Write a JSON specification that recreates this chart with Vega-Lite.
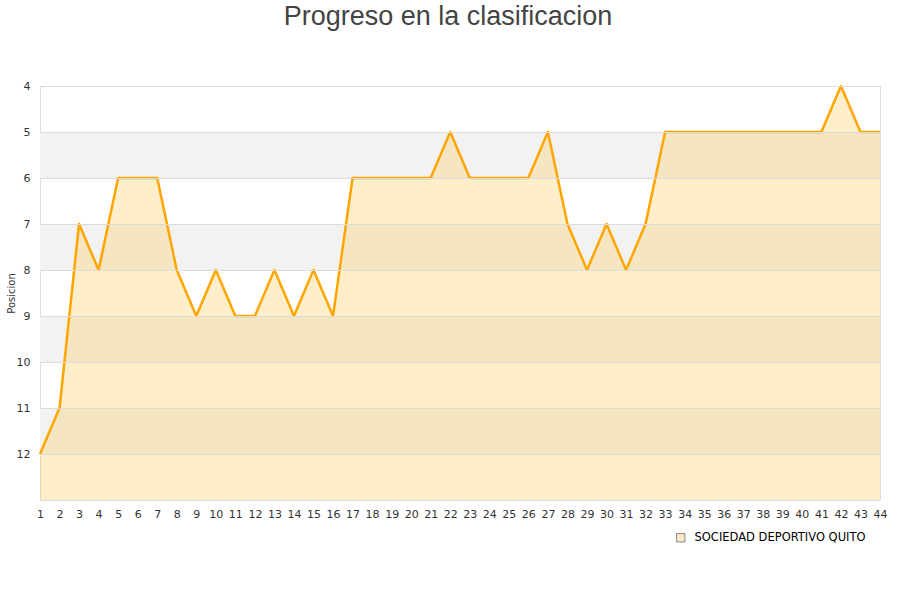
{
  "$schema": "https://vega.github.io/schema/vega-lite/v6.json",
  "width": 840,
  "height": 414,
  "autosize": {"type": "none"},
  "padding": {"left": 40, "top": 86, "right": 20, "bottom": 100},
  "background": "white",
  "title": {"text": "Progreso en la clasificacion", "fontSize": 27, "font": "Liberation Sans", "fontWeight": "normal", "color": "#444444", "anchor": "middle", "offset": 49, "dx": -12},
  "config": {"view": {"stroke": "#dddddd"}, "font": "DejaVu Sans"},
  "datasets": {
    "bands": [{"a": 5, "b": 6}, {"a": 7, "b": 8}, {"a": 9, "b": 10}, {"a": 11, "b": 12}],
    "pos": [
      {"jornada": 1, "posicion": 12, "equipo": "SOCIEDAD DEPORTIVO QUITO"},
      {"jornada": 2, "posicion": 11, "equipo": "SOCIEDAD DEPORTIVO QUITO"},
      {"jornada": 3, "posicion": 7, "equipo": "SOCIEDAD DEPORTIVO QUITO"},
      {"jornada": 4, "posicion": 8, "equipo": "SOCIEDAD DEPORTIVO QUITO"},
      {"jornada": 5, "posicion": 6, "equipo": "SOCIEDAD DEPORTIVO QUITO"},
      {"jornada": 6, "posicion": 6, "equipo": "SOCIEDAD DEPORTIVO QUITO"},
      {"jornada": 7, "posicion": 6, "equipo": "SOCIEDAD DEPORTIVO QUITO"},
      {"jornada": 8, "posicion": 8, "equipo": "SOCIEDAD DEPORTIVO QUITO"},
      {"jornada": 9, "posicion": 9, "equipo": "SOCIEDAD DEPORTIVO QUITO"},
      {"jornada": 10, "posicion": 8, "equipo": "SOCIEDAD DEPORTIVO QUITO"},
      {"jornada": 11, "posicion": 9, "equipo": "SOCIEDAD DEPORTIVO QUITO"},
      {"jornada": 12, "posicion": 9, "equipo": "SOCIEDAD DEPORTIVO QUITO"},
      {"jornada": 13, "posicion": 8, "equipo": "SOCIEDAD DEPORTIVO QUITO"},
      {"jornada": 14, "posicion": 9, "equipo": "SOCIEDAD DEPORTIVO QUITO"},
      {"jornada": 15, "posicion": 8, "equipo": "SOCIEDAD DEPORTIVO QUITO"},
      {"jornada": 16, "posicion": 9, "equipo": "SOCIEDAD DEPORTIVO QUITO"},
      {"jornada": 17, "posicion": 6, "equipo": "SOCIEDAD DEPORTIVO QUITO"},
      {"jornada": 18, "posicion": 6, "equipo": "SOCIEDAD DEPORTIVO QUITO"},
      {"jornada": 19, "posicion": 6, "equipo": "SOCIEDAD DEPORTIVO QUITO"},
      {"jornada": 20, "posicion": 6, "equipo": "SOCIEDAD DEPORTIVO QUITO"},
      {"jornada": 21, "posicion": 6, "equipo": "SOCIEDAD DEPORTIVO QUITO"},
      {"jornada": 22, "posicion": 5, "equipo": "SOCIEDAD DEPORTIVO QUITO"},
      {"jornada": 23, "posicion": 6, "equipo": "SOCIEDAD DEPORTIVO QUITO"},
      {"jornada": 24, "posicion": 6, "equipo": "SOCIEDAD DEPORTIVO QUITO"},
      {"jornada": 25, "posicion": 6, "equipo": "SOCIEDAD DEPORTIVO QUITO"},
      {"jornada": 26, "posicion": 6, "equipo": "SOCIEDAD DEPORTIVO QUITO"},
      {"jornada": 27, "posicion": 5, "equipo": "SOCIEDAD DEPORTIVO QUITO"},
      {"jornada": 28, "posicion": 7, "equipo": "SOCIEDAD DEPORTIVO QUITO"},
      {"jornada": 29, "posicion": 8, "equipo": "SOCIEDAD DEPORTIVO QUITO"},
      {"jornada": 30, "posicion": 7, "equipo": "SOCIEDAD DEPORTIVO QUITO"},
      {"jornada": 31, "posicion": 8, "equipo": "SOCIEDAD DEPORTIVO QUITO"},
      {"jornada": 32, "posicion": 7, "equipo": "SOCIEDAD DEPORTIVO QUITO"},
      {"jornada": 33, "posicion": 5, "equipo": "SOCIEDAD DEPORTIVO QUITO"},
      {"jornada": 34, "posicion": 5, "equipo": "SOCIEDAD DEPORTIVO QUITO"},
      {"jornada": 35, "posicion": 5, "equipo": "SOCIEDAD DEPORTIVO QUITO"},
      {"jornada": 36, "posicion": 5, "equipo": "SOCIEDAD DEPORTIVO QUITO"},
      {"jornada": 37, "posicion": 5, "equipo": "SOCIEDAD DEPORTIVO QUITO"},
      {"jornada": 38, "posicion": 5, "equipo": "SOCIEDAD DEPORTIVO QUITO"},
      {"jornada": 39, "posicion": 5, "equipo": "SOCIEDAD DEPORTIVO QUITO"},
      {"jornada": 40, "posicion": 5, "equipo": "SOCIEDAD DEPORTIVO QUITO"},
      {"jornada": 41, "posicion": 5, "equipo": "SOCIEDAD DEPORTIVO QUITO"},
      {"jornada": 42, "posicion": 4, "equipo": "SOCIEDAD DEPORTIVO QUITO"},
      {"jornada": 43, "posicion": 5, "equipo": "SOCIEDAD DEPORTIVO QUITO"},
      {"jornada": 44, "posicion": 5, "equipo": "SOCIEDAD DEPORTIVO QUITO"}
    ]
  },
  "encoding": {
    "x": {"type": "quantitative", "scale": {"domain": [1, 44], "nice": false, "zero": false},
      "axis": {"values": [1,2,3,4,5,6,7,8,9,10,11,12,13,14,15,16,17,18,19,20,21,22,23,24,25,26,27,28,29,30,31,32,33,34,35,36,37,38,39,40,41,42,43,44], "title": null, "grid": false, "ticks": false, "domain": false, "labelFontSize": 11, "labelColor": "#333333", "labelPadding": 8, "labelFlush": false, "labelOverlap": false}},
    "y": {"type": "quantitative", "scale": {"domain": [4, 13], "reverse": true, "nice": false, "zero": false},
      "axis": {"values": [4,5,6,7,8,9,10,11,12], "title": "Posicion", "titleFontSize": 10, "titleFontWeight": "normal", "titleColor": "#333333", "titleX": -29, "titleY": 207, "titleAlign": "center", "titleBaseline": "middle", "titleAngle": -90, "grid": true, "gridColor": "#dcdcdc", "ticks": false, "domain": false, "labelFontSize": 11, "labelColor": "#333333", "labelPadding": 10, "labelOverlap": false, "zindex": 1}}
  },
  "layer": [
    {
      "data": {"name": "bands"},
      "mark": {"type": "rect", "fill": "#f2f2f2"},
      "encoding": {
        "y": {"field": "a", "type": "quantitative"},
        "y2": {"field": "b"}
      }
    },
    {
      "data": {"name": "pos"},
      "mark": {"type": "area", "fill": "#ffc850", "fillOpacity": 0.3, "interpolate": "linear"},
      "encoding": {
        "x": {"field": "jornada", "type": "quantitative"},
        "y": {"field": "posicion", "type": "quantitative"},
        "y2": {"datum": 13},
        "color": {"field": "equipo", "type": "nominal", "scale": {"range": ["#fde9c4"]},
          "legend": {"title": null, "orient": "none", "legendX": 635, "legendY": 446, "symbolType": "square", "symbolStrokeColor": "#888888", "symbolStrokeWidth": 1, "symbolSize": 70, "labelFontSize": 11.5, "labelOffset": 8, "labelColor": "#000000", "labelFont": "DejaVu Sans", "labelLimit": 400}}
      }
    },
    {
      "data": {"name": "pos"},
      "mark": {"type": "line", "color": "#ffa500", "strokeWidth": 2.5, "strokeJoin": "round"},
      "encoding": {
        "x": {"field": "jornada", "type": "quantitative"},
        "y": {"field": "posicion", "type": "quantitative"}
      }
    }
  ]
}
